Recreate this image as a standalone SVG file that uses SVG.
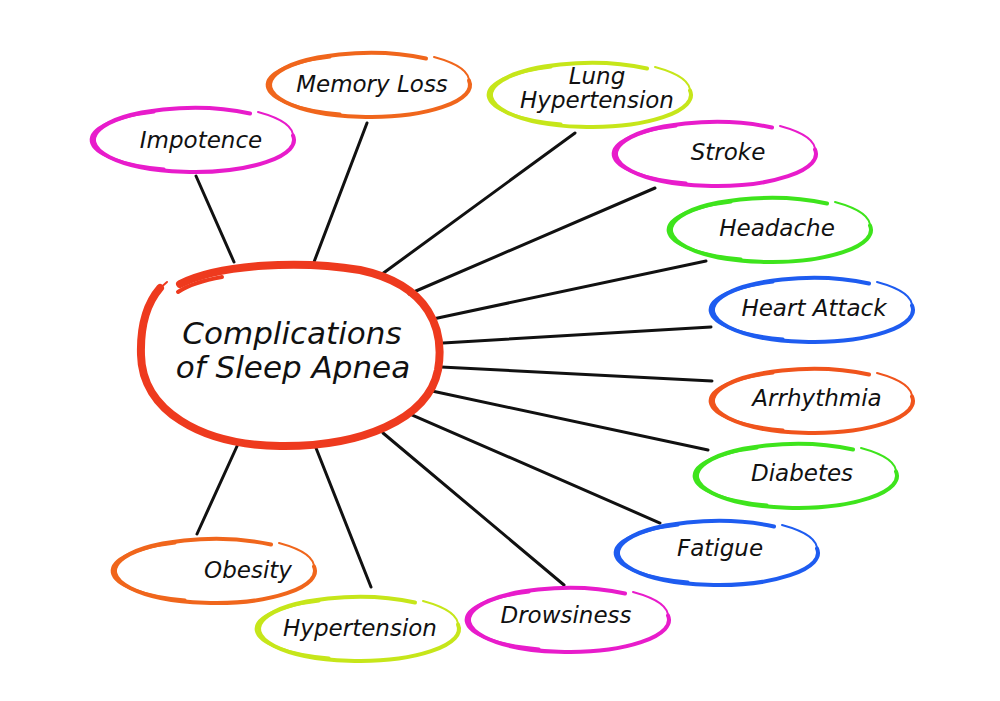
<svg xmlns="http://www.w3.org/2000/svg" width="1000" height="701" viewBox="0 0 1000 701">
<defs>
<style>
.lbl{font-family:"DejaVu Sans","Liberation Sans",sans-serif;font-style:italic;font-size:23px;fill:#111;text-anchor:middle}
.big{font-family:"DejaVu Sans","Liberation Sans",sans-serif;font-style:italic;font-size:31px;fill:#111;text-anchor:middle}
.conn line{stroke:#111;stroke-width:3;stroke-linecap:round}
.o{fill:none;stroke-linecap:round}
</style>
<g id="oval">
<path class="o" d="M 56,-26.5 A 100 32 0 1 0 99,-4.5" stroke-width="4"/>
<path class="o" d="M -40,-28 A 98 30 0 0 0 -30,29" stroke-width="3"/>
<path class="o" d="M 64,-28 Q 101,-18 99,-2" stroke-width="2"/>
</g>
</defs>
<rect width="1000" height="701" fill="#fff"/>
<g class="conn" id="connectors">
<line x1="196" y1="176" x2="234" y2="262"/>
<line x1="367" y1="123" x2="314" y2="262"/>
<line x1="575" y1="133" x2="378" y2="277"/>
<line x1="655" y1="188" x2="409" y2="294"/>
<line x1="706" y1="261" x2="433" y2="319"/>
<line x1="711" y1="327" x2="443" y2="343"/>
<line x1="712" y1="381" x2="441" y2="367"/>
<line x1="708" y1="450" x2="432" y2="391"/>
<line x1="660" y1="523" x2="410" y2="414"/>
<line x1="564" y1="585" x2="383" y2="433"/>
<line x1="371" y1="587" x2="316" y2="448"/>
<line x1="197" y1="534" x2="238" y2="444"/>
</g>
<g id="center">
<path d="M 180,284 C 220,264 300,260 360,270 C 430,285 445,330 438,370 C 428,420 360,447 280,446 C 200,445 142,410 141,355 C 140,322 148,302 160,288" fill="none" stroke="#ee3a1e" stroke-width="8" stroke-linecap="round"/>
<path d="M 178,292 C 190,284 205,280 222,277" fill="none" stroke="#ee3a1e" stroke-width="4" stroke-linecap="round"/>
<path d="M 167,282 C 155,292 146,305 143,320" fill="none" stroke="#ee3a1e" stroke-width="2" stroke-linecap="round"/>
<text class="big" x="292" y="344">Complications</text>
<text class="big" x="293" y="378">of Sleep Apnea</text>
</g>
<g id="impotence"><use href="#oval" x="194" y="140" stroke="#e81ccb"/><text class="lbl" x="201" y="148">Impotence</text></g>
<g id="memory-loss"><use href="#oval" x="370" y="85" stroke="#f0661c"/><text class="lbl" x="372" y="92">Memory Loss</text></g>
<g id="lung-hypertension"><use href="#oval" x="591" y="95" stroke="#c6e61a"/><text class="lbl" x="597" y="84">Lung</text><text class="lbl" x="597" y="108">Hypertension</text></g>
<g id="stroke"><use href="#oval" x="716" y="154" stroke="#e81ccb"/><text class="lbl" x="728" y="160">Stroke</text></g>
<g id="headache"><use href="#oval" x="771" y="230" stroke="#3ee41c"/><text class="lbl" x="777" y="236">Headache</text></g>
<g id="heart-attack"><use href="#oval" x="813" y="310" stroke="#1e5cf0"/><text class="lbl" x="814" y="316">Heart Attack</text></g>
<g id="arrhythmia"><use href="#oval" x="813" y="401" stroke="#f0541c"/><text class="lbl" x="817" y="406">Arrhythmia</text></g>
<g id="diabetes"><use href="#oval" x="797" y="476" stroke="#3ee41c"/><text class="lbl" x="802" y="481">Diabetes</text></g>
<g id="fatigue"><use href="#oval" x="718" y="553" stroke="#1e5cf0"/><text class="lbl" x="720" y="556">Fatigue</text></g>
<g id="drowsiness"><use href="#oval" x="569" y="620" stroke="#e81ccb"/><text class="lbl" x="566" y="623">Drowsiness</text></g>
<g id="hypertension"><use href="#oval" x="359" y="629" stroke="#c6e61a"/><text class="lbl" x="360" y="636">Hypertension</text></g>
<g id="obesity"><use href="#oval" x="215" y="571" stroke="#f0661c"/><text class="lbl" x="248" y="578">Obesity</text></g>
</svg>
